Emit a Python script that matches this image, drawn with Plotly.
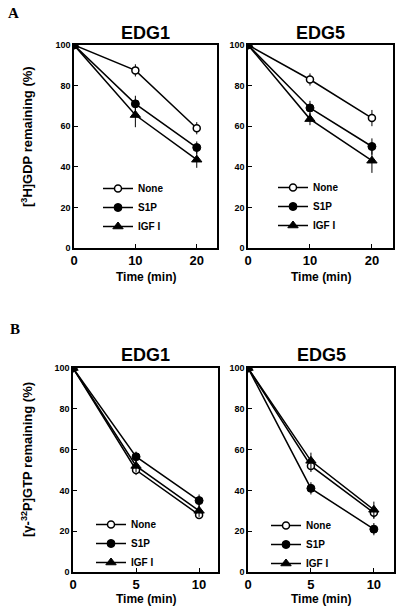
import plotly.graph_objects as go

# ---------------- data ----------------
series_names = ["None", "S1P", "IGF I"]

time_A = [0, 10, 20]
time_B = [0, 5, 10]

# Panel A: [3H]GDP remaining (%)
A_EDG1 = {
    "None":  [100, 87.5, 59],
    "S1P":   [100, 71, 49.5],
    "IGF I": [100, 65.5, 43.5],
}
A_EDG1_err = {
    "None":  [0, 3, 3],
    "S1P":   [0, 4, 3],
    "IGF I": [0, 6, 4],
}
A_EDG5 = {
    "None":  [100, 83, 64],
    "S1P":   [100, 69, 50],
    "IGF I": [100, 63.5, 43],
}
A_EDG5_err = {
    "None":  [0, 3, 4],
    "S1P":   [0, 3.5, 4],
    "IGF I": [0, 3, 6],
}

# Panel B: [γ-32P]GTP remaining (%)
B_EDG1 = {
    "None":  [100, 50, 28],
    "S1P":   [100, 56.5, 35],
    "IGF I": [100, 52, 30],
}
B_EDG1_err = {
    "None":  [0, 2.5, 2],
    "S1P":   [0, 2.5, 3],
    "IGF I": [0, 3, 3],
}
B_EDG5 = {
    "None":  [100, 52, 29],
    "S1P":   [100, 41, 21],
    "IGF I": [100, 54.5, 30.5],
}
B_EDG5_err = {
    "None":  [0, 3, 3],
    "S1P":   [0, 3, 3],
    "IGF I": [0, 4, 4],
}

x_ticks_A = [0, 10, 20]
x_ticks_B = [0, 5, 10]
y_ticks = [0, 20, 40, 60, 80, 100]

# ---------------- styles ----------------
W, H = 400, 612
def px(x):
    return x / W
def py(y):
    return 1 - y / H

FONT = "Liberation Sans, Arial, sans-serif"
marker_styles = {
    "None":  dict(symbol="circle", size=7, color="white", line=dict(color="black", width=1.5)),
    "S1P":   dict(symbol="circle", size=8, color="black", line=dict(color="black", width=1)),
    "IGF I": dict(symbol="triangle-up", size=9, color="black", line=dict(color="black", width=1)),
}

panels = [
    ("x", "y", time_A, A_EDG1, A_EDG1_err, (74, 217), (45, 248), [0, 23.3], x_ticks_A, "legend", (98, 174), "EDG1", 33),
    ("x2", "y2", time_A, A_EDG5, A_EDG5_err, (248, 393), (45, 248), [0, 23.4], x_ticks_A, "legend2", (273, 173), "EDG5", 33),
    ("x3", "y3", time_B, B_EDG1, B_EDG1_err, (73, 218), (368, 572), [0, 11.5], x_ticks_B, "legend3", (91, 510), "EDG1", 355),
    ("x4", "y4", time_B, B_EDG5, B_EDG5_err, (248, 394), (368, 572), [0, 11.6], x_ticks_B, "legend4", (266, 511), "EDG5", 355),
]

fig = go.Figure()
layout = dict(
    width=W, height=H,
    margin=dict(l=0, r=0, t=0, b=0, pad=0, autoexpand=False),
    paper_bgcolor="white", plot_bgcolor="white",
    font=dict(family=FONT, color="black"),
    annotations=[],
)

def note(text, x, y, size, family=FONT, angle=0):
    return dict(text=text, x=px(x), y=py(y), xref="paper", yref="paper",
                xanchor="center", yanchor="middle", showarrow=False, textangle=angle,
                font=dict(size=size, family=family, weight="bold"))

for i, (xa, ya, times, data, err, xd, yd, xr, xt, lg, lgpos, title, ty) in enumerate(panels):
    for name in series_names:
        fig.add_trace(go.Scatter(
            x=times, y=data[name], name=name, mode="lines+markers",
            xaxis=xa, yaxis=ya, legend=lg,
            line=dict(color="black", width=1.5),
            marker=marker_styles[name],
            error_y=dict(type="data", array=err[name], visible=True,
                         color="black", thickness=1, width=0),
            showlegend=True,
        ))
    xkey = "xaxis" if xa == "x" else "xaxis" + xa[1:]
    ykey = "yaxis" if ya == "y" else "yaxis" + ya[1:]
    layout[xkey] = dict(
        domain=[px(xd[0]), px(xd[1])], range=xr, anchor=ya, automargin=False,
        tickvals=xt, ticks="inside", ticklen=4, tickwidth=1, tickcolor="black",
        showline=True, linecolor="black", linewidth=1.5, mirror=True,
        showgrid=False, zeroline=False,
        tickfont=dict(size=13, family=FONT, weight="bold"),
    )
    layout[ykey] = dict(
        domain=[py(yd[1]), py(yd[0])], range=[0, 100], anchor=xa, automargin=False,
        tickvals=y_ticks, ticks="inside", ticklen=4, tickwidth=1, tickcolor="black",
        showline=True, linecolor="black", linewidth=1.5, mirror=True,
        showgrid=False, zeroline=False,
        tickfont=dict(size=9, family=FONT, weight="bold"),
    )
    layout[lg] = dict(
        x=px(lgpos[0]), y=py(lgpos[1]), xanchor="left", yanchor="top",
        bgcolor="rgba(0,0,0,0)", borderwidth=0,
        font=dict(size=10, family=FONT, weight="bold"),
        tracegroupgap=0, itemwidth=30,
    )
    layout["annotations"].append(note(title, (xd[0] + xd[1]) / 2, ty, 18))
    layout["annotations"].append(note("Time (min)", (xd[0] + xd[1]) / 2, ty + 244, 12))

layout["annotations"] += [
    note("[<sup>3</sup>H]GDP remaining (%)", 27, 137, 13, angle=-90),
    note("[γ-<sup>32</sup>P]GTP remaining (%)", 27, 460, 13, angle=-90),
    note("A", 13, 13, 15, family="Liberation Serif, serif"),
    note("B", 15, 329, 15, family="Liberation Serif, serif"),
]

fig.update_layout(**layout)
fig.write_html("out.html", config={"displayModeBar": False},
               post_script="document.body.style.margin='0px';")
